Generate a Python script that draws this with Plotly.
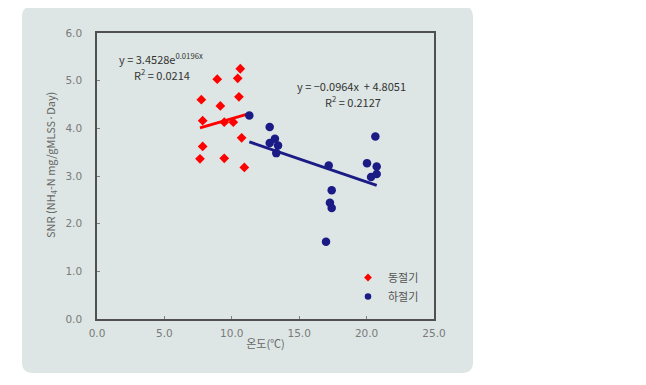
import numpy as np
import plotly.graph_objects as go

# 동절기 (winter) data
winter_x = [10.63, 8.92, 10.44, 7.74, 9.15, 10.53, 7.84, 9.44, 10.11, 10.73, 7.84, 7.64, 9.44, 10.93]
winter_y = [5.25, 5.03, 5.05, 4.60, 4.47, 4.66, 4.16, 4.13, 4.13, 3.80, 3.62, 3.36, 3.37, 3.18]
# 하절기 (summer) data
summer_x = [11.30, 12.81, 13.20, 12.81, 13.43, 13.30, 17.19, 20.65, 20.03, 20.75, 20.33, 20.75, 17.41, 17.28, 17.41, 16.99]
summer_y = [4.27, 4.03, 3.78, 3.69, 3.64, 3.48, 3.22, 3.83, 3.27, 3.20, 2.98, 3.04, 2.70, 2.44, 2.33, 1.62]

# trend line coefficients (as shown on chart)
winter_a, winter_b = 3.4528, 0.0196
summer_m, summer_c = -0.0964, 4.8051

x_ticks = [0, 5, 10, 15, 20, 25]
x_labels = ["0.0", "5.0", "10.0", "15.0", "20.0", "25.0"]
y_ticks = [0, 1, 2, 3, 4, 5, 6]
y_labels = ["0.0", "1.0", "2.0", "3.0", "4.0", "5.0", "6.0"]

PANEL = "#dde6e4"
RED = "#ff0000"
NAVY = "#1b1b86"
FONT = "Noto Sans CJK KR"
NUMFONT = "DejaVu Sans"

# page body has an 8px margin; figure coordinates = window - 8
W, H = 638, 377
L, T = 89, 25
pw, ph = 337, 286
R, B = W - L - pw, H - T - ph

wx = np.linspace(min(winter_x), 11.1, 30)
wy = winter_a * np.exp(winter_b * wx)
sx = np.array([min(summer_x), max(summer_x)])
sy = summer_m * sx + summer_c

fig = go.Figure()
fig.add_trace(go.Scatter(x=wx, y=wy, mode="lines", line=dict(color=RED, width=3), showlegend=False, hoverinfo="skip"))
fig.add_trace(go.Scatter(x=sx, y=sy, mode="lines", line=dict(color=NAVY, width=3), showlegend=False, hoverinfo="skip"))
fig.add_trace(go.Scatter(x=winter_x, y=winter_y, mode="markers", name="동절기", showlegend=False,
                         marker=dict(symbol="diamond", size=7.5, color=RED)))
fig.add_trace(go.Scatter(x=summer_x, y=summer_y, mode="markers", name="하절기", showlegend=False,
                         marker=dict(symbol="circle", size=8.5, color=NAVY)))
# legend entries (smaller symbols, like the reference legend)
fig.add_trace(go.Scatter(x=[None], y=[None], mode="markers", name="동절기",
                         marker=dict(symbol="diamond", size=6, color=RED)))
fig.add_trace(go.Scatter(x=[None], y=[None], mode="markers", name="하절기",
                         marker=dict(symbol="circle", size=6.5, color=NAVY)))

def px2paper(px, py):
    # px, py in window coordinates
    fx, fy = px - 8, py - 8
    return (fx - L) / pw, (T + ph - fy) / ph

x0, y0, x1, y1, r = 22, 6, 473, 373, 11
def P(px, py):
    a, b = px2paper(px, py)
    return f"{a:.5f},{b:.5f}"
path = (f"M {P(x0+r,y0)} L {P(x1-r,y0)} Q {P(x1,y0)} {P(x1,y0+r)} "
        f"L {P(x1,y1-r)} Q {P(x1,y1)} {P(x1-r,y1)} L {P(x0+r,y1)} "
        f"Q {P(x0,y1)} {P(x0,y1-r)} L {P(x0,y0+r)} Q {P(x0,y0)} {P(x0+r,y0)} Z")
fig.add_shape(type="path", path=path, xref="paper", yref="paper",
              fillcolor=PANEL, line=dict(width=0), layer="below")

ann_font = dict(family=FONT, size=11, color="#333333")
fig.add_annotation(x=4.75, y=5.46, xref="x", yref="y", showarrow=False, xanchor="center",
                   text="y = 3.4528e<sup>0.0196x</sup>", font=ann_font)
fig.add_annotation(x=4.8, y=5.13, xref="x", yref="y", showarrow=False, xanchor="center",
                   text="R<sup>2</sup> = 0.0214", font=ann_font)
fig.add_annotation(x=18.9, y=4.88, xref="x", yref="y", showarrow=False, xanchor="center",
                   text="y = −0.0964x  + 4.8051", font=ann_font)
fig.add_annotation(x=19.0, y=4.57, xref="x", yref="y", showarrow=False, xanchor="center",
                   text="R<sup>2</sup> = 0.2127", font=ann_font)

# y-axis title (placed like the reference, slightly above centre)
ya, yb = px2paper(50, 165)
fig.add_annotation(x=ya, y=yb, xref="paper", yref="paper", showarrow=False, textangle=-90,
                   xanchor="center", yanchor="middle",
                   text="SNR (NH<sub>4</sub>-N mg/gMLSS·Day)",
                   font=dict(family=FONT, size=11, color="#666666"))

axis_common = dict(showline=True, linecolor="#505050", linewidth=1.5, mirror=True,
                   showgrid=False, zeroline=False, ticks="inside", ticklen=3,
                   tickcolor="#808080", tickfont=dict(family=NUMFONT, size=10.5, color="#7a7a7a"))
fig.update_xaxes(range=[0, 25], tickvals=x_ticks, ticktext=x_labels, ticklabelstandoff=4,
                 title=dict(text="온도(℃)", font=dict(family=FONT, size=11, color="#666666"), standoff=2),
                 **axis_common)
fig.update_yaxes(range=[0, 6], tickvals=y_ticks, ticktext=y_labels, ticklabelstandoff=11,
                 **axis_common)

lx, ly = px2paper(348, 263)
fig.update_layout(width=W, height=H, margin=dict(l=L, r=R, t=T, b=B),
                  paper_bgcolor="white", plot_bgcolor=PANEL,
                  legend=dict(x=lx, y=ly, xanchor="left", yanchor="top",
                              bgcolor="rgba(0,0,0,0)", font=dict(family=FONT, size=11, color="#555555"),
                              itemwidth=30, tracegroupgap=2),
                  font=dict(family=FONT))
fig.write_html("out.html")
